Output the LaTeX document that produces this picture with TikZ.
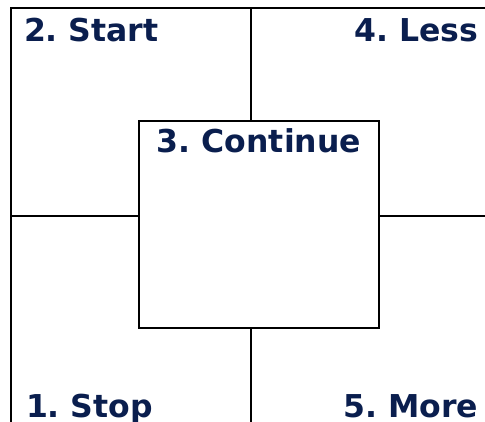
\documentclass[tikz,border=0pt]{standalone}
\usepackage{fontspec}
\setmainfont{DejaVu Sans}
\definecolor{navy}{RGB}{10,30,78}
\frenchspacing

\begin{document}
\begin{tikzpicture}[x=1pt, y=-1pt, line width=2pt,
    every node/.style={font=\fontsize{31.5}{32}\selectfont\bfseries, text=navy, inner sep=0pt},
    box/.style={draw=black, minimum width=240pt, minimum height=207pt}]
    \useasboundingbox (0,0) rectangle (485,422);

    % frame
    \coordinate (tl) at (11,8);
    \coordinate (tr) at (485,8);
    \coordinate (bl) at (11,422);
    \coordinate (topmid) at (250.5,8);
    \coordinate (botmid) at (250.5,422);
    \coordinate (lmid) at (11,216);
    \coordinate (rmid) at (485,216);
    \draw (bl) -- (tl) -- (tr);

    \node[box] (cont) at (259,224.5) {};
    \draw (topmid) -- (topmid |- cont.north);
    \draw (botmid |- cont.south) -- (botmid);
    \draw (lmid) -- (lmid -| cont.west);
    \draw (rmid -| cont.east) -- (rmid);

    \node[anchor=base west] (start) at (23,42) {2. Start};
    \node[anchor=base east] (less) at (479,42) {4. Less};
    \node[anchor=base] (continue) at (cont.center |- 0,153) {3. Continue};
    \node[anchor=base west] (stop) at (25,417.5) {1. Stop};
    \node[anchor=base east] (more) at (479,417.5) {5. More};
\end{tikzpicture}
\end{document}
